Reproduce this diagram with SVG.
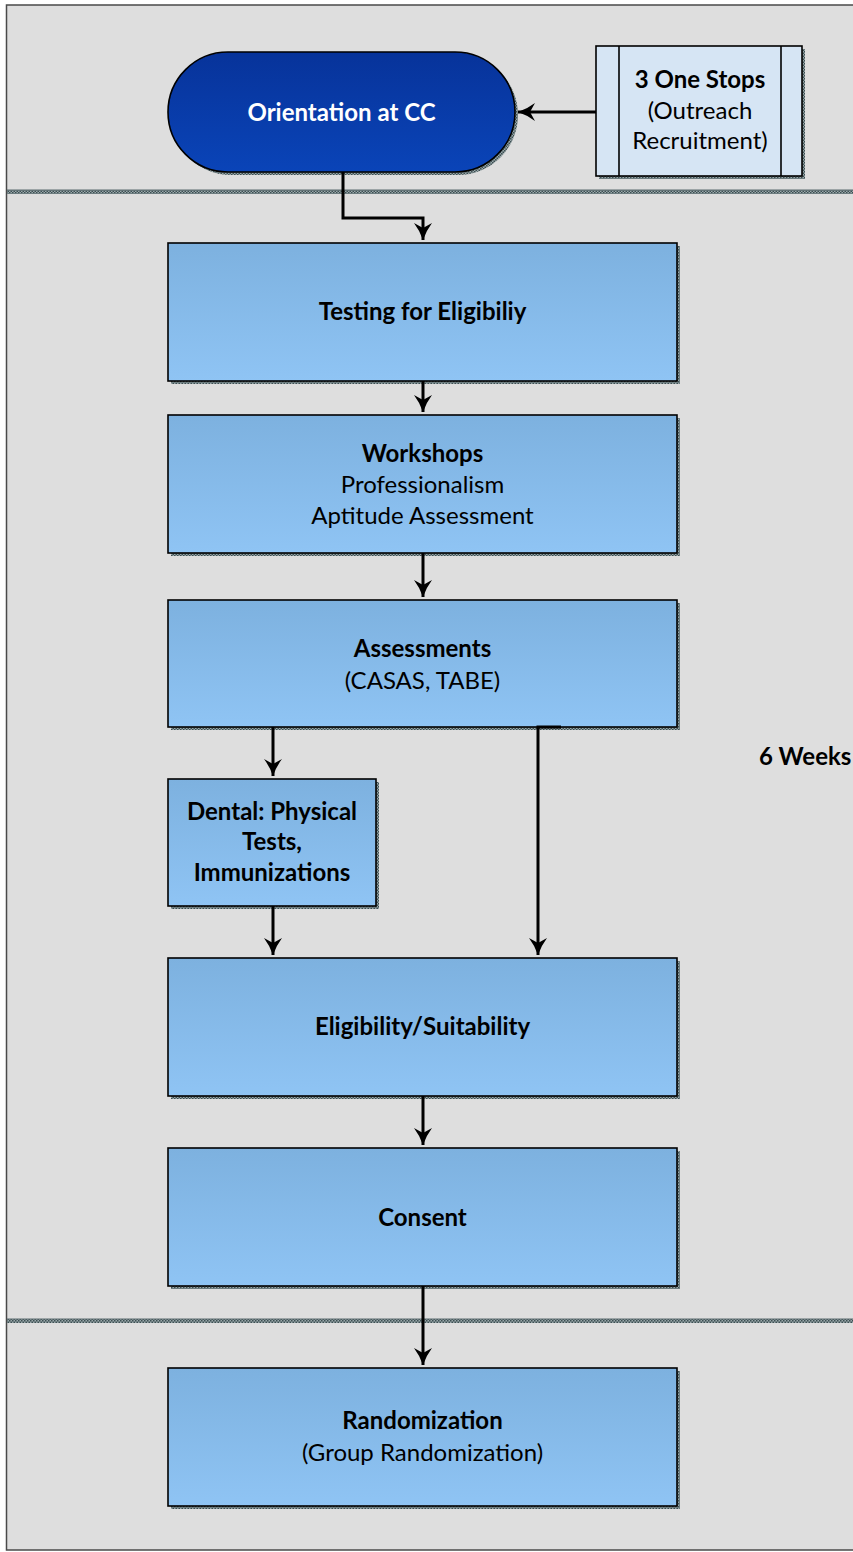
<svg xmlns="http://www.w3.org/2000/svg" width="853" height="1552" viewBox="0 0 853 1552">
<defs>
<linearGradient id="boxGrad" x1="0" y1="0" x2="0" y2="1">
<stop offset="0" stop-color="#7db1df"/>
<stop offset="1" stop-color="#8fc4f4"/>
</linearGradient>
<linearGradient id="pillGrad" x1="0" y1="0" x2="0" y2="1">
<stop offset="0" stop-color="#07339a"/>
<stop offset="1" stop-color="#0a44b8"/>
</linearGradient>
<pattern id="hatch" width="3" height="3" patternUnits="userSpaceOnUse">
<rect width="3" height="3" fill="#9aa8aa"/>
<rect width="1.5" height="1.5" fill="#3c4e52"/>
<rect x="1.5" y="1.5" width="1.5" height="1.5" fill="#3c4e52"/>
</pattern>
<marker id="arr" markerUnits="userSpaceOnUse" markerWidth="20" markerHeight="20" refX="17" refY="9" orient="auto">
<path d="M0,0 Q8,6 17,9 Q8,12 0,18 L5,9 z" fill="#000"/>
</marker>
</defs>
<style>
.lane{fill:#dedede;stroke:none}
.sep{fill:url(#hatch)}
.shadow{fill:url(#hatch)}
.box{fill:url(#boxGrad);stroke:#000;stroke-width:1.6}
.t{font-family:Lato,"Liberation Sans",sans-serif;font-size:24px;fill:#000;text-anchor:middle}
.b{font-weight:bold}
.w{fill:#fff}
.conn{fill:none;stroke:#000;stroke-width:3}
</style>
<rect x="0" y="0" width="853" height="1552" fill="#ffffff"/>
<rect class="lane" x="6.5" y="5" width="860" height="1545"/>
<rect x="6.5" y="5" width="860" height="1545" fill="none" stroke="#4a4a4a" stroke-width="1.5"/>
<rect class="sep" x="7" y="190" width="846" height="4"/>
<line x1="7" y1="190" x2="853" y2="190" stroke="#5a6a6e" stroke-width="1"/>
<rect class="sep" x="7" y="1319" width="846" height="4"/>
<line x1="7" y1="1319" x2="853" y2="1319" stroke="#5a6a6e" stroke-width="1"/>

<g id="orientation">
<rect class="shadow" x="171" y="55" width="347" height="120" rx="60"/>
<rect x="168" y="52" width="347" height="120" rx="60" fill="url(#pillGrad)" stroke="#000" stroke-width="1.6"/>
<text class="t b w" x="341.5" y="121">Orientation at CC</text>
</g>

<g id="one-stops">
<rect class="shadow" x="599" y="49" width="206" height="130"/>
<rect x="596" y="46" width="206" height="130" fill="#d6e5f4" stroke="#000" stroke-width="1.6"/>
<line x1="619" y1="46" x2="619" y2="176" stroke="#000" stroke-width="1.6"/>
<line x1="781" y1="46" x2="781" y2="176" stroke="#000" stroke-width="1.6"/>
<text class="t" x="700" y="88"><tspan class="b">3 One Stops</tspan><tspan x="700" y="119">(Outreach</tspan><tspan x="700" y="149">Recruitment)</tspan></text>
</g>

<g id="testing">
<rect class="shadow" x="171" y="246" width="509" height="138"/>
<rect class="box" x="168" y="243" width="509" height="138"/>
<text class="t b" x="422.5" y="320">Testing for Eligibiliy</text>
</g>

<g id="workshops">
<rect class="shadow" x="171" y="418" width="509" height="138"/>
<rect class="box" x="168" y="415" width="509" height="138"/>
<text class="t" x="422.5" y="462"><tspan class="b">Workshops</tspan><tspan x="422.5" y="493">Professionalism</tspan><tspan x="422.5" y="524">Aptitude Assessment</tspan></text>
</g>

<g id="assessments">
<rect class="shadow" x="171" y="603" width="509" height="127"/>
<rect class="box" x="168" y="600" width="509" height="127"/>
<text class="t" x="422.5" y="657"><tspan class="b">Assessments</tspan><tspan x="422.5" y="689">(CASAS, TABE)</tspan></text>
</g>

<g id="dental">
<rect class="shadow" x="171" y="782" width="208" height="127"/>
<rect class="box" x="168" y="779" width="208" height="127"/>
<text class="t b" x="272" y="820">Dental: Physical<tspan x="272" y="850">Tests,</tspan><tspan x="272" y="881">Immunizations</tspan></text>
</g>

<g id="eligibility">
<rect class="shadow" x="171" y="961" width="509" height="138"/>
<rect class="box" x="168" y="958" width="509" height="138"/>
<text class="t b" x="422.5" y="1035">Eligibility/Suitability</text>
</g>

<g id="consent">
<rect class="shadow" x="171" y="1151" width="509" height="138"/>
<rect class="box" x="168" y="1148" width="509" height="138"/>
<text class="t b" x="422.5" y="1226">Consent</text>
</g>

<g id="randomization">
<rect class="shadow" x="171" y="1371" width="509" height="138"/>
<rect class="box" x="168" y="1368" width="509" height="138"/>
<text class="t" x="422.5" y="1429"><tspan class="b">Randomization</tspan><tspan x="422.5" y="1461">(Group Randomization)</tspan></text>
</g>

<g id="six-weeks">
<text class="t b" x="759" y="765" style="text-anchor:start">6 Weeks</text>
</g>

<g id="connectors">
<path class="conn" d="M596,112 H518" marker-end="url(#arr)"/>
<path class="conn" d="M343,172 V218 H423 V240" marker-end="url(#arr)"/>
<path class="conn" d="M423,381 V412" marker-end="url(#arr)"/>
<path class="conn" d="M423,553 V597" marker-end="url(#arr)"/>
<path class="conn" d="M273,727 V776" marker-end="url(#arr)"/>
<path class="conn" d="M561,727 H538 V955" marker-end="url(#arr)"/>
<path class="conn" d="M273,906 V955" marker-end="url(#arr)"/>
<path class="conn" d="M423,1096 V1145" marker-end="url(#arr)"/>
<path class="conn" d="M423,1286 V1365" marker-end="url(#arr)"/>
</g>
</svg>
